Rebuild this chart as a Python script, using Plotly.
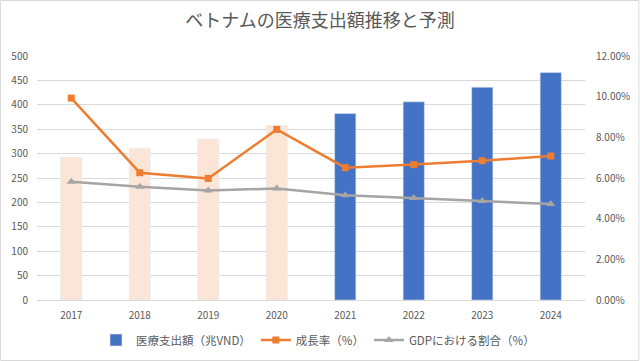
import plotly.graph_objects as go

years = ["2017", "2018", "2019", "2020", "2021", "2022", "2023", "2024"]
spending = [293, 311, 330, 358, 382, 406, 436, 466]   # 兆VND
growth = [9.93, 6.26, 5.98, 8.39, 6.51, 6.66, 6.85, 7.08]  # %
gdp_share = [5.82, 5.57, 5.39, 5.48, 5.15, 5.02, 4.87, 4.72]  # %
n_hist = 4  # 2017-2020 actual, 2021-2024 forecast

FONT = "Noto Sans CJK JP"
TXT = "#595959"

fig = go.Figure()
fig.add_trace(go.Bar(
    x=years[:n_hist], y=spending[:n_hist], name="医療支出額（兆VND）",
    marker=dict(color="#FBE5D6"), width=0.31, showlegend=False,
    legendgroup="sp",
))
fig.add_trace(go.Bar(
    x=years[n_hist:], y=spending[n_hist:], name="医療支出額（兆VND）",
    marker=dict(color="#4472C4"), width=0.31, legendgroup="sp",
))
fig.add_trace(go.Scatter(
    x=years, y=growth, name="成長率（%）", yaxis="y2", mode="lines+markers",
    line=dict(color="#ED7D31", width=2.5),
    marker=dict(symbol="square", size=7, color="#ED7D31"),
))
fig.add_trace(go.Scatter(
    x=years, y=gdp_share, name="GDPにおける割合（%）", yaxis="y2", mode="lines+markers",
    line=dict(color="#A5A5A5", width=2.5),
    marker=dict(symbol="triangle-up", size=8, color="#A5A5A5"),
))

fig.update_layout(
    width=640, height=361,
    margin=dict(l=37, r=55, t=56, b=61, autoexpand=False),
    paper_bgcolor="white", plot_bgcolor="white",
    font=dict(family=FONT, color=TXT, size=10),
    barmode="overlay",
    title=dict(text="ベトナムの医療支出額推移と予測", x=0.5, xref="container", xanchor="center",
               y=1 - 21/361, yref="container", yanchor="middle",
               font=dict(size=18, color=TXT, family=FONT)),
    xaxis=dict(type="category", showgrid=False, showline=True, linecolor="#D9D9D9",
               ticks="", ticklabelstandoff=6, tickfont=dict(size=10, color=TXT)),
    yaxis=dict(range=[0, 500], dtick=50, showgrid=True, gridcolor="#D9D9D9",
               zeroline=False, ticks="", ticklabelstandoff=8,
               tickfont=dict(size=10, color=TXT)),
    yaxis2=dict(range=[0, 12], dtick=2, overlaying="y", side="right", showgrid=False,
                zeroline=False, ticksuffix="%", tickformat=".2f", ticks="",
                ticklabelstandoff=10, tickfont=dict(size=10, color=TXT)),
    legend=dict(orientation="h", x=(318 - 37) / 548, xref="paper", xanchor="center",
                y=-40 / 244, yanchor="middle", font=dict(size=11.5, color=TXT),
                traceorder="normal", entrywidthmode="pixels"),
    shapes=[dict(type="rect", xref="paper", yref="paper",
                 x0=-37/548 + 0.001, x1=1 + 55/548 - 0.002,
                 y0=-61/244 + 0.002, y1=1 + 56/244 - 0.002,
                 line=dict(color="#D9D9D9", width=1), layer="below")],
)

fig.write_html("out.html", config={"displayModeBar": False},
               post_script="document.body.style.margin='0';")
